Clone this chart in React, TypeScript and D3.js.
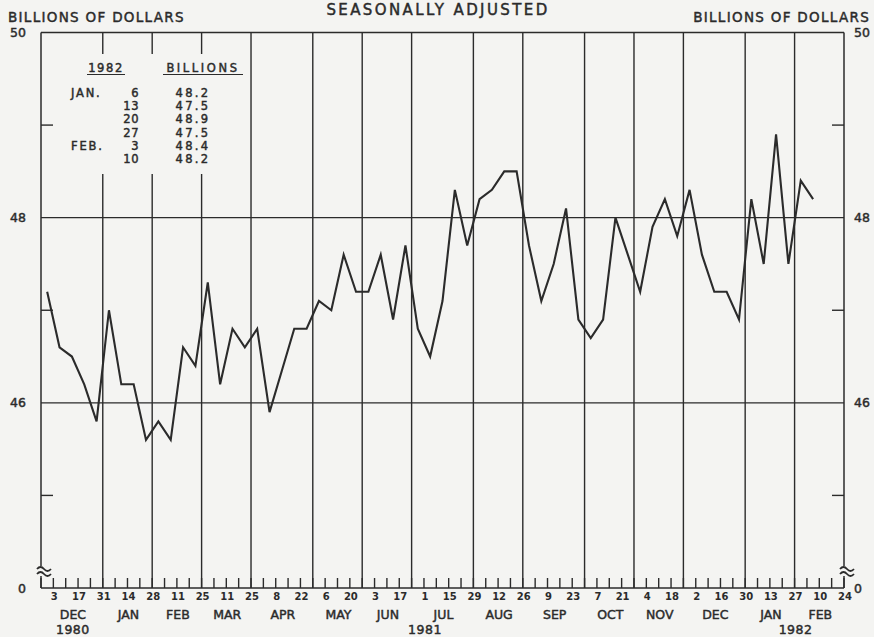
import React from 'react';
import * as d3 from 'd3';

// weekly averages, weeks ending Wednesday, first week ends Dec 3 1980
const firstWeekEnd = new Date(1980, 11, 3);
const values = [
  47.2, 46.6, 46.5, 46.2, 45.8, 47.0, 46.2, 46.2, 45.6, 45.8, 45.6, 46.6, 46.4,
  47.3, 46.2, 46.8, 46.6, 46.8, 45.9, 46.35, 46.8, 46.8, 47.1, 47.0, 47.6, 47.2,
  47.2, 47.6, 46.9, 47.7, 46.8, 46.5, 47.1, 48.3, 47.7, 48.2, 48.3, 48.5, 48.5,
  47.7, 47.1, 47.5, 48.1, 46.9, 46.7, 46.9, 48.0, 47.6, 47.2, 47.9, 48.2, 47.8,
  48.3, 47.6, 47.2, 47.2, 46.9, 48.2, 47.5, 48.9, 47.5, 48.4, 48.2,
];

const monthLabels = ['DEC', 'JAN', 'FEB', 'MAR', 'APR', 'MAY', 'JUN', 'JUL', 'AUG', 'SEP', 'OCT', 'NOV', 'DEC', 'JAN', 'FEB'];
const yearLabels = ['1980', '1981', '1982'];
const yLabels = [
  { v: 50, label: '50' },
  { v: 48, label: '48' },
  { v: 46, label: '46' },
  { v: 44, label: '0' },
];
const minorY = [45, 47, 49];
const gridY = [46, 48];

const tableRows = [
  { month: 'JAN.', day: '6', value: '48.2' },
  { month: '', day: '13', value: '47.5' },
  { month: '', day: '20', value: '48.9' },
  { month: '', day: '27', value: '47.5' },
  { month: 'FEB.', day: '3', value: '48.4' },
  { month: '', day: '10', value: '48.2' },
];

const W = 874;
const H = 637;
const font = '"DejaVu Sans", sans-serif';
const ink = '#2b2b2b';
const paper = '#f4f4f2';
// thickens the book weight a little, like the pen lettering
const heavy = { stroke: ink, strokeWidth: 0.45 };

export default function App() {
  const start = new Date(1980, 10, 26);
  const end = new Date(1982, 1, 24);
  const x = d3.scaleTime().domain([start, end]).range([41, 844]);
  const y = d3.scaleLinear().domain([44, 50]).range([588, 32.5]);

  const weeks = d3.timeDay.range(start, d3.timeDay.offset(end, 1), 7);
  // last week of each month gets a full height line
  const majors = weeks.filter(
    (d) =>
      d3.timeDay.offset(d, 7).getMonth() !== d.getMonth() &&
      +d > +start &&
      +d < +end
  );
  const bounds = [start, ...majors, end];
  const fmtDay = d3.timeFormat('%-d');

  const data = values.map((v, i) => ({
    date: d3.timeHour.offset(d3.timeDay.offset(firstWeekEnd, 7 * i), -84),
    v,
  }));
  const line = d3
    .line<{ date: Date; v: number }>()
    .x((d) => x(d.date))
    .y((d) => y(d.v));

  const [x0, x1] = x.range();
  const yTop = y(50);
  const yBot = y(44);

  const decLines = majors.filter((d) => d.getMonth() === 11);
  const yearBounds = [start, ...decLines, end];

  const breakMark = (cx: number, cy: number) => {
    const wave = (dy: number) =>
      `M${cx - 7},${cy + dy + 1} q3.5,-4 7,0 t7,0`;
    return (
      <g>
        <rect x={cx - 7} y={cy - 5} width={14} height={10} fill={paper} />
        <path d={wave(-3)} fill="none" stroke={ink} strokeWidth={1.8} />
        <path d={wave(2)} fill="none" stroke={ink} strokeWidth={1.8} />
      </g>
    );
  };

  return (
    <svg
      width={W}
      height={H}
      style={{ position: 'absolute', left: 0, top: 0, background: paper }}
      fontFamily={font}
    >
      <rect width={W} height={H} fill={paper} />

      {/* header */}
      <text x={8} y={22} fontSize={13.5} fill={ink} letterSpacing={1.3} {...heavy}>BILLIONS OF DOLLARS</text>
      <text x={870} y={22} fontSize={13.5} fill={ink} textAnchor="end" letterSpacing={1.3} {...heavy}>BILLIONS OF DOLLARS</text>
      <text x={438} y={15} fontSize={15} fill={ink} textAnchor="middle" letterSpacing={2.4} {...heavy}>SEASONALLY ADJUSTED</text>

      {/* month lines */}
      {majors.map((d, i) => (
        <line key={i} x1={x(d)} x2={x(d)} y1={yTop} y2={yBot} stroke={ink} strokeWidth={1.4} />
      ))}
      {/* grid */}
      {gridY.map((v) => (
        <line key={v} x1={x0} x2={x1} y1={y(v)} y2={y(v)} stroke={ink} strokeWidth={1.4} />
      ))}
      <line x1={x0} x2={x1} y1={yTop} y2={yTop} stroke={ink} strokeWidth={1.5} />
      <line x1={x0} x2={x1} y1={yBot} y2={yBot} stroke={ink} strokeWidth={1.5} />
      <line x1={x0} x2={x0} y1={yTop} y2={yBot} stroke={ink} strokeWidth={1.5} />
      <line x1={x1} x2={x1} y1={yTop} y2={yBot} stroke={ink} strokeWidth={1.5} />
      {minorY.map((v) => (
        <g key={v}>
          <line x1={x0} x2={x0 + 12} y1={y(v)} y2={y(v)} stroke={ink} strokeWidth={1.4} />
          <line x1={x1 - 12} x2={x1} y1={y(v)} y2={y(v)} stroke={ink} strokeWidth={1.4} />
        </g>
      ))}

      {/* weekly ticks */}
      {weeks.map((d, i) => (
        <line key={i} x1={x(d)} x2={x(d)} y1={yBot} y2={yBot - 10} stroke={ink} strokeWidth={1.4} />
      ))}
      {weeks
        .filter((_, i) => i % 2 === 1)
        .map((d, i) => (
          <text key={i} x={x(d) + 1} y={600} fontSize={10} fontWeight="bold" fill={ink} textAnchor="middle">
            {fmtDay(d)}
          </text>
        ))}
      {monthLabels.map((m, i) => (
        <text
          key={i}
          x={(x(bounds[i]) + x(bounds[i + 1])) / 2 + 1}
          y={619}
          fontSize={12.5}
          fill={ink}
          textAnchor="middle"
          {...heavy}
        >
          {m}
        </text>
      ))}
      {yearLabels.map((yr, i) => (
        <text
          key={yr}
          x={(x(yearBounds[i]) + x(yearBounds[i + 1])) / 2 + 1}
          y={634}
          fontSize={12.5}
          fill={ink}
          textAnchor="middle"
          letterSpacing={0.5}
          {...heavy}
        >
          {yr}
        </text>
      ))}

      {/* y labels */}
      {yLabels.map((d) => (
        <g key={d.v}>
          <text x={26} y={y(d.v) + 4.5} fontSize={12.5} fill={ink} textAnchor="end" {...heavy}>{d.label}</text>
          <text x={854} y={y(d.v) + 4.5} fontSize={12.5} fill={ink} {...heavy}>{d.label}</text>
        </g>
      ))}

      {breakMark(x0 + 3, yBot - 17)}
      {breakMark(x1 + 3, yBot - 17)}

      {/* inset table */}
      <rect x={58} y={54} width={188} height={120} fill={paper} />
      <text x={106} y={72} fontSize={11.5} fill={ink} textAnchor="middle" letterSpacing={1.6} {...heavy}>1982</text>
      <line x1={87} x2={125} y1={74.5} y2={74.5} stroke={ink} strokeWidth={1.1} />
      <text x={203} y={72} fontSize={11.5} fill={ink} textAnchor="middle" letterSpacing={2.6} {...heavy}>BILLIONS</text>
      <line x1={163} x2={243} y1={74.5} y2={74.5} stroke={ink} strokeWidth={1.1} />
      {tableRows.map((r, i) => (
        <g key={i} fontSize={11.5} fill={ink} {...heavy}>
          <text x={71} y={97 + i * 13.2} letterSpacing={1.8}>{r.month}</text>
          <text x={139} y={97 + i * 13.2} textAnchor="end" letterSpacing={0.5}>{r.day}</text>
          <text x={193} y={97 + i * 13.2} textAnchor="middle" letterSpacing={2.3}>{r.value}</text>
        </g>
      ))}

      {/* series */}
      <path d={line(data) ?? ''} fill="none" stroke={ink} strokeWidth={2.1} strokeLinejoin="miter" />
    </svg>
  );
}
